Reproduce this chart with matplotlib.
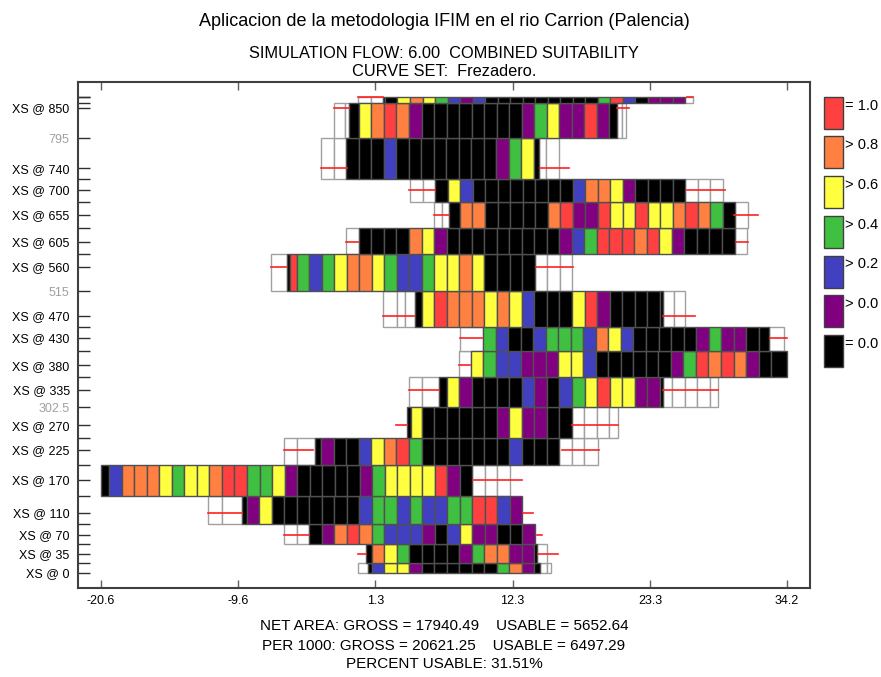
import numpy as np
import matplotlib.pyplot as plt

plt.rcParams['font.family'] = ['Liberation Sans', 'DejaVu Sans']

# cross sections along the reach (bottom to top) and the band each one covers
xs_pos = [0, 35, 70, 110, 170, 225, 270, 335, 380, 430, 470, 560, 605, 655, 700, 740, 850, 870]
band_lo = [0, 17.5, 52.5, 90, 140, 197.5, 247.5, 302.5, 357.5, 405, 450, 515, 582.5, 630, 677.5, 720, 795, 860]
band_hi = [17.5, 52.5, 90, 140, 197.5, 247.5, 302.5, 357.5, 405, 450, 515, 582.5, 630, 677.5, 720, 795, 860, 870]

# left edge of each row and its cells: colour code[:width], width 1.0 if not given
# w = dry, k = 0.0, p = >0.0, b = >0.2, g = >0.4, y = >0.6, o = >0.8, r = 1.0
row_start = [-0.1, 0.57, -5.98, -12.03, -20.6, -6.0, 3.87, 4.02, 8.02, 8.07,
             1.95, -7.02, -1.0, 6.0, 4.08, -3.03, -1.97, -0.05]
row_cells = [
    "w:0.85 k:0.27 b y y p k k k k k k g o p k:0.45 w:0.55 w:0.3",
    "k:0.45 o y g k k k k p g o o p p k:0.2 w:0.8",
    "w:1.06 w:0.96 k p o r o g b b b p k b y p p k k p",
    "w:1.07 w:1.6 k:0.4 p y k k k k k k k b g g b g b b g g r r b p",
    "k:0.66 b o o o y g y y o r r g g y p k k k k k p g y y y y r p k w w w",
    "w:1.07 w:1.43 k:0.5 p k k b y o r g k k k k k k k b k k k w w w:1.1",
    "k:0.27 y:0.86 k k k k k k p y p p k k w w w w:0.7",
    "w:1.0 w:1.4 k:0.6 y p k k k k b p k b g y r y y p p k:0.27 w:0.73 w w w w:0.7",
    "w:0.9 y g b b p p p y y b k k k k k k p g r o r o p k k:1.25",
    "w:1.86 g b k k b g g g b o y b k k k k k p g p p k k:0.8 w:1.25",
    "w:1.07 w:0.66 w:0.8 k:0.54 y r o o o y o y b k k k y r p k k k k k:0.27 w:0.85 w:0.93",
    "w:1.3 k:0.2 r:0.55 g b g y o o y g b b g y y o y k k k k w w w",
    "w k k k k o y p k k k k k k k k k p b g r r r o r y p k k k k w",
    "w:0.6 w:0.6 k:0.87 o o k k k k k o r p p r y y r y y o r o g k w",
    "w w k y b k k k k k k k k b o o y p k k k k w w w",
    "w w k k k b k k k k k k k k p g y k:0.45 w:0.55 w",
    "w:0.86 w:0.34 k:0.77 y o r o p k k k k k k k k p g y p p r p k:0.6 w:0.4 w:0.35",
    "w:1.0 w:0.95 k:0.18 k y o y g b p b k k k k k k k k k g r b k p p p w:0.6",
]

# water edge marks (x from, x to) drawn at the cross section
red_left = [None, (-0.1, 0.57), (-5.98, -3.96), (-12.03, -9.36), None, (-6.0, -3.64),
            (2.96, 3.82), (4.02, 6.4), (8.0, 8.9), (8.07, 9.8), (1.95, 4.4), (-7.0, -5.8),
            (-1.0, -0.05), (6.0, 7.2), (4.0, 6.1), (-3.03, -0.97), (-1.97, -0.77), (-0.05, 1.9)]
red_right = [None, (14.33, 15.88), (14.2, 14.65), (13.13, 13.88), (9.09, 13.0), (16.2, 19.2),
             (17.03, 20.72), (24.31, 28.7), None, (32.83, 34.17), (24.3, 26.84), (14.14, 17.12),
             (30.1, 31.1), (29.98, 31.9), (26.18, 29.24), (14.46, 16.8), (20.6, 21.6), (26.2, 26.7)]

gray_labels = [795, 515, 302.5]

legend_codes = ['r', 'o', 'y', 'g', 'b', 'p', 'k']
legend_text = ['= 1.0', '> 0.8', '> 0.6', '> 0.4', '> 0.2', '> 0.0', '= 0.0']

x_ticks = np.linspace(-20.6, 34.2, 6)
x_ticklabels = ['-20.6', '-9.6', '1.3', '12.3', '23.3', '34.2']

colors = {'r': '#ff4040', 'o': '#ff8040', 'y': '#ffff40', 'g': '#40c040',
          'b': '#4040c0', 'p': '#800080', 'k': '#000000'}


def parse(start, cells):
    lefts, widths, codes = [], [], []
    x = start
    for tok in cells.split():
        code, _, w = tok.partition(':')
        w = float(w) if w else 1.0
        lefts.append(x)
        widths.append(w)
        codes.append(code)
        x += w
    return np.array(lefts), np.array(widths), codes


fig = plt.figure(figsize=(8.81, 6.77), dpi=100)
ax = fig.add_axes([78 / 881, 1 - 588 / 677, 732 / 881, 506 / 677])

for i in range(len(xs_pos)):
    lefts, widths, codes = parse(row_start[i], row_cells[i])
    lo, hi = band_lo[i], band_hi[i]
    dry = np.array([c == 'w' for c in codes])
    ax.bar(lefts[dry], hi - lo, width=widths[dry], bottom=lo, align='edge',
           color='white', edgecolor='#a0a0a0', linewidth=1.0, zorder=2)
    wet = ~dry
    ax.bar(lefts[wet], hi - lo, width=widths[wet], bottom=lo, align='edge',
           color=[colors[c] for c, d in zip(codes, dry) if not d],
           edgecolor='#505050', linewidth=1.0, zorder=3)
    for seg in (red_left[i], red_right[i]):
        if seg is not None:
            ax.plot(seg, [xs_pos[i], xs_pos[i]], color='#ff2020', lw=1.2, zorder=4)

ax.set_xlim(-22.44, 36.03)
ax.set_ylim(-27.5, 897.5)

# y ticks: every cross section and every band limit
bounds = band_lo[1:] + [band_hi[-1]]
yt = xs_pos + bounds
yl = []
for v in yt:
    if v in xs_pos and v != 870:
        yl.append(f"XS @ {v}")
    elif v in gray_labels:
        yl.append(f"{v:g}")
    else:
        yl.append("")
ax.set_yticks(yt)
ax.set_yticklabels(yl, fontsize=9)
for lab, v in zip(ax.get_yticklabels(), yt):
    if v in gray_labels and v not in xs_pos:
        lab.set_color('#a0a0a0')
ax.tick_params(axis='y', direction='in', length=8.5, width=1.0, color='#303030', pad=6)

ax.set_xticks(x_ticks)
ax.set_xticklabels(x_ticklabels, fontsize=9)
ax.tick_params(axis='x', direction='in', top=True, length=6, width=1.0, color='#606060', pad=5)

for s in ax.spines.values():
    s.set_color('#404040')
    s.set_linewidth(1.5)

# titles
cx = 444 / 881
fig.text(cx, 1 - 26.5 / 677, "Aplicacion de la metodologia IFIM en el rio Carrion (Palencia)",
         ha='center', va='baseline', fontsize=13)
fig.text(cx, 1 - 58 / 677, "SIMULATION FLOW: 6.00  COMBINED SUITABILITY",
         ha='center', va='baseline', fontsize=11.8)
fig.text(cx, 1 - 75.5 / 677, "CURVE SET:  Frezadero.", ha='center', va='baseline', fontsize=11.8)

# summary under the chart
fig.text(cx, 1 - 630.5 / 677, "NET AREA: GROSS = 17940.49    USABLE = 5652.64",
         ha='center', va='baseline', fontsize=11)
fig.text(cx, 1 - 649.5 / 677, "PER 1000: GROSS = 20621.25    USABLE = 6497.29",
         ha='center', va='baseline', fontsize=11)
fig.text(cx, 1 - 668.5 / 677, "PERCENT USABLE: 31.51%", ha='center', va='baseline', fontsize=11)

# legend at the right
for i, (c, t) in enumerate(zip(legend_codes, legend_text)):
    top = 96.7 + 39.7 * i
    fig.patches.append(plt.Rectangle((823.5 / 881, 1 - (top + 32) / 677), 19 / 881, 32 / 677,
                                     transform=fig.transFigure, facecolor=colors[c],
                                     edgecolor='#404040', linewidth=1.0))
    fig.text(845 / 881, 1 - (top + 9) / 677, t, ha='left', va='center', fontsize=10.5)

fig.savefig('out.png', dpi=100)
